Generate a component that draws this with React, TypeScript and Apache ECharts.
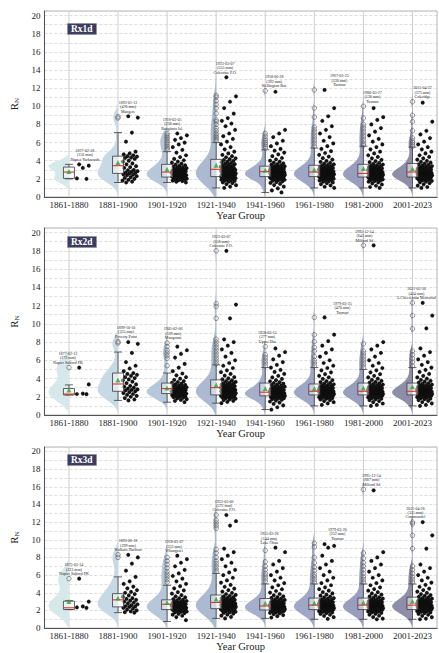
import React, { useEffect, useRef } from "react";
import * as echarts from "echarts";

const YEAR_GROUPS = ["1861-1880", "1881-1900", "1901-1920", "1921-1940", "1941-1960", "1961-1980", "1981-2000", "2001-2023"];
const PANEL_NAMES = ["Rx1d", "Rx2d", "Rx3d"];

// box stats: [lower whisker, Q1, median, Q3, upper whisker]
const RX1D_BOX = [
  [2.0, 2.05, 2.75, 3.3, 3.6], [1.6, 2.6, 3.45, 4.5, 7.1], [1.6, 2.2, 2.75, 3.6, 5.0], [1.0, 2.25, 3.05, 4.15, 6.0],
  [0.5, 2.25, 2.8, 3.4, 5.2], [1.0, 2.25, 2.75, 3.5, 5.4], [1.0, 2.2, 2.6, 3.6, 5.6], [1.0, 2.2, 2.75, 3.7, 5.5],
];
const RX1D_MEAN = [2.8, 3.8, 3.05, 3.5, 2.95, 3.0, 3.15, 3.1];
const RX1D_OUTLIERS = [
  [], [8.7, 8.85], [5.2, 5.4, 5.6, 5.8, 6.0, 6.2, 6.4, 6.6, 6.8, 7.0],
  [6.2, 6.4, 6.6, 6.8, 7.0, 7.3, 7.6, 8.0, 8.3, 8.5, 9.2, 9.8, 10.2, 10.6, 11.0, 11.2],
  [5.4, 5.6, 5.8, 6.0, 6.2, 6.4, 6.7, 7.0, 11.7],
  [5.6, 5.9, 6.2, 6.5, 6.8, 7.1, 7.4, 7.7, 8.8, 9.8, 11.8],
  [5.7, 5.9, 6.2, 6.5, 6.8, 7.1, 7.4, 7.7, 8.0, 8.7, 10.0],
  [5.6, 5.8, 6.0, 6.2, 6.5, 7.3, 8.3, 9.0, 10.5],
];
const RX1D_POINTS = [
  [3.6, 3.45, 3.2, 2.05, 2.0],
  [8.9, 8.75, 7.1, 6.1, 5.0, 4.8, 4.7, 4.6, 4.5, 4.45, 4.35, 4.3, 4.2, 4.0, 3.9, 3.7, 3.6, 3.4, 3.3, 3.2, 3.0, 2.95, 2.85, 2.8, 2.7, 2.65, 2.6, 2.5, 2.45, 2.4, 2.3, 2.2, 2.1, 2.0, 1.9, 1.8, 1.7, 1.6],
  [7.0, 6.8, 6.5, 6.3, 6.0, 5.8, 5.5, 5.2, 4.9, 4.6, 4.4, 4.2, 4.05, 3.9, 3.78, 3.67, 3.58, 3.5, 3.43, 3.36, 3.3, 3.24, 3.18, 3.13, 3.08, 3.03, 2.99, 2.95, 2.91, 2.87, 2.83, 2.79, 2.75, 2.72, 2.68, 2.65, 2.62, 2.59, 2.56, 2.53, 2.5, 2.47, 2.44, 2.41, 2.38, 2.35, 2.32, 2.29, 2.26, 2.23, 2.2, 2.17, 2.14, 2.11, 2.08, 2.05, 2.02, 1.98, 1.94, 1.9, 1.86, 1.81, 1.75, 1.68, 1.6],
  [13.2, 11.1, 10.5, 9.8, 9.2, 8.7, 8.4, 8.1, 7.8, 7.4, 7.0, 6.7, 6.4, 6.1, 5.8, 5.5, 5.25, 5.0, 4.8, 4.65, 4.5, 4.38, 4.27, 4.17, 4.08, 3.99, 3.91, 3.83, 3.76, 3.69, 3.62, 3.56, 3.5, 3.44, 3.39, 3.34, 3.29, 3.24, 3.2, 3.16, 3.12, 3.08, 3.04, 3.0, 2.97, 2.94, 2.91, 2.88, 2.85, 2.82, 2.79, 2.76, 2.73, 2.7, 2.67, 2.64, 2.61, 2.58, 2.55, 2.52, 2.5, 2.47, 2.45, 2.42, 2.4, 2.37, 2.35, 2.33, 2.3, 2.28, 2.26, 2.24, 2.22, 2.2, 2.17, 2.14, 2.11, 2.08, 2.05, 2.02, 1.99, 1.95, 1.91, 1.87, 1.83, 1.77, 1.7, 1.62, 1.53, 1.42, 1.3, 1.15, 1.0],
  [11.6, 7.4, 7.0, 6.6, 6.2, 5.9, 5.6, 5.3, 5.1, 4.9, 4.7, 4.5, 4.3, 4.15, 4.0, 3.9, 3.8, 3.71, 3.63, 3.56, 3.5, 3.44, 3.39, 3.34, 3.3, 3.26, 3.22, 3.18, 3.14, 3.11, 3.08, 3.05, 3.02, 2.99, 2.96, 2.93, 2.9, 2.88, 2.85, 2.83, 2.8, 2.78, 2.76, 2.73, 2.71, 2.69, 2.67, 2.64, 2.62, 2.6, 2.58, 2.56, 2.54, 2.52, 2.5, 2.48, 2.46, 2.44, 2.42, 2.4, 2.38, 2.36, 2.34, 2.32, 2.3, 2.28, 2.26, 2.23, 2.2, 2.17, 2.14, 2.11, 2.08, 2.05, 2.02, 1.98, 1.94, 1.9, 1.85, 1.79, 1.72, 1.64, 1.55, 1.44, 1.31, 1.15, 0.95, 0.72, 0.5],
  [11.8, 9.8, 8.9, 8.4, 7.8, 7.4, 7.0, 6.6, 6.2, 5.9, 5.6, 5.3, 5.05, 4.85, 4.65, 4.45, 4.28, 4.12, 3.98, 3.87, 3.77, 3.68, 3.6, 3.53, 3.47, 3.41, 3.36, 3.31, 3.27, 3.23, 3.19, 3.15, 3.11, 3.08, 3.05, 3.02, 2.99, 2.96, 2.93, 2.9, 2.87, 2.85, 2.82, 2.8, 2.77, 2.75, 2.72, 2.7, 2.68, 2.66, 2.63, 2.61, 2.59, 2.57, 2.55, 2.53, 2.51, 2.49, 2.47, 2.45, 2.43, 2.41, 2.39, 2.37, 2.35, 2.33, 2.31, 2.29, 2.27, 2.25, 2.23, 2.2, 2.17, 2.14, 2.11, 2.08, 2.05, 2.02, 1.99, 1.95, 1.91, 1.87, 1.82, 1.76, 1.69, 1.61, 1.52, 1.41, 1.28, 1.13, 1.0],
  [9.8, 8.8, 8.5, 8.0, 7.6, 7.2, 6.8, 6.4, 6.1, 5.8, 5.5, 5.25, 5.0, 4.8, 4.6, 4.42, 4.26, 4.1, 3.96, 3.85, 3.75, 3.66, 3.58, 3.51, 3.45, 3.39, 3.34, 3.29, 3.24, 3.2, 3.16, 3.12, 3.08, 3.04, 3.01, 2.98, 2.95, 2.92, 2.89, 2.86, 2.83, 2.8, 2.77, 2.75, 2.72, 2.7, 2.67, 2.65, 2.63, 2.6, 2.58, 2.56, 2.54, 2.52, 2.5, 2.48, 2.46, 2.44, 2.42, 2.4, 2.38, 2.36, 2.34, 2.32, 2.3, 2.28, 2.26, 2.24, 2.22, 2.2, 2.17, 2.14, 2.11, 2.08, 2.05, 2.02, 1.99, 1.95, 1.91, 1.87, 1.82, 1.76, 1.69, 1.6, 1.5, 1.38, 1.24, 1.1, 1.0],
  [10.4, 8.3, 7.3, 6.9, 6.5, 6.1, 5.8, 5.5, 5.25, 5.0, 4.8, 4.6, 4.42, 4.26, 4.12, 3.99, 3.88, 3.78, 3.69, 3.61, 3.54, 3.47, 3.41, 3.35, 3.3, 3.25, 3.2, 3.16, 3.12, 3.08, 3.04, 3.0, 2.97, 2.94, 2.91, 2.88, 2.85, 2.82, 2.79, 2.76, 2.74, 2.71, 2.69, 2.66, 2.64, 2.62, 2.59, 2.57, 2.55, 2.53, 2.51, 2.49, 2.47, 2.45, 2.43, 2.41, 2.39, 2.37, 2.35, 2.33, 2.31, 2.29, 2.27, 2.25, 2.23, 2.21, 2.18, 2.15, 2.12, 2.09, 2.06, 2.03, 2.0, 1.96, 1.92, 1.88, 1.83, 1.77, 1.7, 1.62, 1.52, 1.4, 1.26, 1.1, 1.0],
];
const RX1D_NOTES = [
  "1877-02-18\n(156 mm)\nNapier Yorkwards", "1893-01-12\n(470 mm)\nMangere", "1918-03-05\n(238 mm)\nRangitoto Isl.", "1923-03-07\n(555 mm)\nColeraine P.O.",
  "1958-06-28\n(392 mm)\nWellington Bot.", "1967-03-25\n(530 mm)\nTasman", "1980-03-27\n(128 mm)\nTasman", "2011-04-27\n(373 mm)\nColeridge",
];

const RX2D_BOX = [
  [2.2, 2.2, 2.3, 2.9, 3.3], [1.6, 2.6, 3.4, 4.6, 6.9], [1.4, 2.35, 2.9, 3.5, 4.6], [1.3, 2.2, 3.0, 3.85, 5.5],
  [0.6, 2.1, 2.5, 3.5, 5.2], [1.0, 2.2, 2.6, 3.4, 5.2], [1.0, 2.2, 2.6, 3.5, 5.0], [1.0, 2.2, 2.6, 3.5, 5.2],
];
const RX2D_MEAN = [2.75, 3.85, 2.95, 3.3, 2.9, 2.9, 2.95, 3.1];
const RX2D_OUTLIERS = [
  [5.2], [7.9, 8.05], [5.4, 6.2, 6.5, 6.8, 7.1, 7.5, 7.9],
  [5.6, 5.9, 6.2, 6.5, 6.8, 7.1, 7.4, 7.7, 8.0, 8.3, 10.6, 11.9, 12.2, 18.0],
  [5.4, 5.7, 6.0, 6.3, 6.6, 7.5],
  [5.4, 5.7, 6.0, 6.4, 7.0, 7.4, 8.05, 8.8, 10.7],
  [5.2, 5.5, 5.8, 6.1, 6.4, 6.7, 7.0, 7.8, 18.6],
  [5.4, 5.8, 6.2, 6.6, 7.0, 9.45, 10.9, 12.3],
];
const RX2D_POINTS = [
  [5.2, 3.35, 2.35, 2.3, 2.28],
  [8.0, 7.8, 6.8, 5.8, 5.4, 5.1, 4.8, 4.6, 4.5, 4.4, 4.3, 4.15, 4.05, 3.9, 3.8, 3.65, 3.5, 3.35, 3.2, 3.1, 3.0, 2.9, 2.8, 2.75, 2.7, 2.6, 2.5, 2.4, 2.3, 2.2, 2.1, 2.0, 1.85, 1.7, 1.6],
  [7.5, 7.1, 6.7, 6.3, 5.6, 5.2, 4.8, 4.55, 4.35, 4.15, 3.98, 3.84, 3.72, 3.62, 3.53, 3.45, 3.38, 3.31, 3.25, 3.19, 3.14, 3.09, 3.04, 3.0, 2.96, 2.92, 2.88, 2.84, 2.8, 2.77, 2.74, 2.71, 2.68, 2.65, 2.62, 2.59, 2.56, 2.53, 2.5, 2.47, 2.44, 2.41, 2.38, 2.35, 2.32, 2.29, 2.26, 2.22, 2.18, 2.14, 2.1, 2.05, 2.0, 1.95, 1.89, 1.82, 1.74, 1.65, 1.54, 1.42],
  [18.0, 12.1, 10.6, 8.3, 8.0, 7.6, 7.2, 6.8, 6.4, 6.0, 5.7, 5.4, 5.15, 4.9, 4.7, 4.5, 4.32, 4.16, 4.02, 3.9, 3.8, 3.71, 3.63, 3.56, 3.49, 3.43, 3.37, 3.32, 3.27, 3.22, 3.18, 3.14, 3.1, 3.06, 3.02, 2.99, 2.96, 2.93, 2.9, 2.87, 2.84, 2.81, 2.78, 2.75, 2.72, 2.69, 2.66, 2.63, 2.6, 2.57, 2.55, 2.52, 2.5, 2.47, 2.45, 2.43, 2.41, 2.38, 2.36, 2.34, 2.32, 2.3, 2.28, 2.26, 2.24, 2.22, 2.2, 2.17, 2.14, 2.11, 2.08, 2.05, 2.02, 1.98, 1.94, 1.9, 1.85, 1.79, 1.72, 1.64, 1.55, 1.44, 1.3],
  [7.3, 6.9, 6.5, 6.1, 5.8, 5.5, 5.2, 4.95, 4.72, 4.5, 4.3, 4.12, 3.96, 3.82, 3.7, 3.6, 3.51, 3.43, 3.36, 3.29, 3.22, 3.16, 3.1, 3.05, 3.0, 2.95, 2.9, 2.86, 2.82, 2.78, 2.74, 2.7, 2.67, 2.64, 2.61, 2.58, 2.55, 2.52, 2.49, 2.47, 2.44, 2.42, 2.4, 2.37, 2.35, 2.33, 2.31, 2.29, 2.27, 2.25, 2.23, 2.21, 2.19, 2.17, 2.15, 2.13, 2.11, 2.09, 2.06, 2.03, 2.0, 1.97, 1.93, 1.89, 1.85, 1.8, 1.74, 1.67, 1.58, 1.48, 1.36, 1.22, 1.05, 0.85, 0.6],
  [10.7, 8.8, 8.1, 7.6, 7.2, 6.8, 6.4, 6.0, 5.7, 5.4, 5.15, 4.9, 4.68, 4.48, 4.3, 4.13, 3.97, 3.83, 3.71, 3.61, 3.52, 3.44, 3.37, 3.31, 3.25, 3.19, 3.14, 3.09, 3.05, 3.01, 2.97, 2.93, 2.89, 2.86, 2.83, 2.8, 2.77, 2.74, 2.71, 2.68, 2.65, 2.63, 2.6, 2.58, 2.55, 2.53, 2.51, 2.49, 2.47, 2.45, 2.43, 2.41, 2.39, 2.37, 2.35, 2.33, 2.31, 2.29, 2.27, 2.25, 2.23, 2.21, 2.19, 2.16, 2.13, 2.1, 2.07, 2.04, 2.01, 1.97, 1.93, 1.89, 1.84, 1.78, 1.71, 1.63, 1.53, 1.41, 1.27, 1.1],
  [18.6, 8.0, 7.6, 7.2, 6.8, 6.4, 6.0, 5.7, 5.4, 5.15, 4.9, 4.68, 4.48, 4.3, 4.13, 3.98, 3.85, 3.74, 3.64, 3.55, 3.47, 3.4, 3.33, 3.27, 3.21, 3.16, 3.11, 3.06, 3.02, 2.98, 2.94, 2.9, 2.87, 2.84, 2.81, 2.78, 2.75, 2.72, 2.69, 2.66, 2.63, 2.61, 2.58, 2.56, 2.54, 2.52, 2.5, 2.48, 2.46, 2.44, 2.42, 2.4, 2.38, 2.36, 2.34, 2.32, 2.3, 2.28, 2.26, 2.24, 2.22, 2.2, 2.17, 2.14, 2.11, 2.08, 2.05, 2.02, 1.98, 1.94, 1.9, 1.85, 1.79, 1.72, 1.63, 1.53, 1.41, 1.26, 1.1, 1.0],
  [12.3, 10.9, 9.5, 7.3, 6.9, 6.5, 6.1, 5.8, 5.5, 5.2, 4.95, 4.72, 4.5, 4.3, 4.13, 3.98, 3.86, 3.75, 3.65, 3.56, 3.48, 3.41, 3.34, 3.28, 3.22, 3.17, 3.12, 3.07, 3.03, 2.99, 2.95, 2.91, 2.88, 2.85, 2.82, 2.79, 2.76, 2.73, 2.7, 2.67, 2.64, 2.62, 2.59, 2.57, 2.55, 2.53, 2.51, 2.49, 2.47, 2.45, 2.43, 2.41, 2.39, 2.37, 2.35, 2.33, 2.31, 2.29, 2.27, 2.25, 2.23, 2.21, 2.18, 2.15, 2.12, 2.09, 2.06, 2.03, 1.99, 1.95, 1.91, 1.86, 1.8, 1.73, 1.64, 1.54, 1.42, 1.27, 1.1, 1.0],
];
const RX2D_NOTES = [
  "1877-02-13\n(272 mm)\nNapier Salford PK", "1899-10-10\n(355 mm)\nPoverty Point", "1905-02-06\n(339 mm)\nMangonui", "1923-03-07\n(558 mm)\nColeraine P.O.",
  "1958-02-15\n(277 mm)\nUpper Hut", "1979-03-25\n(470 mm)\nTasman", "1995-12-14\n(642 mm)\nMilford Sd", "2021-05-30\n(434 mm)\nL.Cheeseman Memorial",
];

const RX3D_BOX = [
  [2.1, 2.1, 2.3, 3.05, 3.1], [1.75, 2.4, 3.2, 3.9, 5.8], [0.75, 2.1, 2.7, 3.2, 4.85], [1.1, 2.2, 2.9, 3.75, 6.2],
  [1.1, 2.05, 2.5, 3.35, 5.0], [1.0, 2.1, 2.6, 3.4, 5.0], [1.0, 2.1, 2.6, 3.4, 5.0], [1.0, 2.1, 2.6, 3.5, 5.0],
];
const RX3D_MEAN = [3.0, 3.4, 2.9, 3.3, 2.8, 2.85, 2.9, 3.05];
const RX3D_OUTLIERS = [
  [5.6], [8.0, 8.3], [5.2, 5.5, 5.8, 6.1, 6.4, 6.8, 7.2, 7.6, 8.0],
  [6.4, 6.7, 7.0, 7.3, 7.6, 8.0, 8.5, 8.9, 11.3, 11.6, 11.9, 12.2, 12.8],
  [5.3, 5.6, 5.9, 6.2, 6.6, 7.0, 7.5, 8.8],
  [5.2, 5.5, 5.8, 6.1, 6.5, 6.9, 7.4, 8.0, 9.2, 9.6],
  [5.2, 5.5, 5.8, 6.2, 6.6, 7.0, 7.4, 7.9, 8.5, 15.7],
  [5.2, 5.5, 5.8, 6.2, 6.6, 7.0, 9.0, 10.5, 11.8, 12.0],
];
const RX3D_POINTS = [
  [5.6, 3.0, 2.45, 2.35, 2.3],
  [8.3, 8.0, 7.3, 6.5, 5.8, 5.3, 5.0, 4.7, 4.5, 4.3, 4.1, 4.0, 3.85, 3.7, 3.55, 3.4, 3.3, 3.2, 3.1, 3.0, 2.9, 2.8, 2.7, 2.6, 2.5, 2.45, 2.4, 2.3, 2.2, 2.1, 2.0, 1.9, 1.8, 1.75],
  [8.2, 7.8, 7.4, 7.0, 6.6, 6.2, 5.9, 5.6, 5.3, 5.0, 4.75, 4.5, 4.28, 4.08, 3.9, 3.74, 3.6, 3.48, 3.38, 3.29, 3.21, 3.14, 3.07, 3.01, 2.96, 2.91, 2.86, 2.82, 2.78, 2.74, 2.7, 2.66, 2.63, 2.6, 2.57, 2.54, 2.51, 2.48, 2.45, 2.42, 2.39, 2.36, 2.33, 2.3, 2.27, 2.24, 2.21, 2.18, 2.15, 2.12, 2.09, 2.06, 2.03, 2.0, 1.96, 1.92, 1.88, 1.83, 1.77, 1.7, 1.62, 1.52, 1.4, 1.25, 0.9],
  [12.8, 12.1, 11.6, 9.0, 8.6, 8.2, 7.8, 7.4, 7.0, 6.6, 6.3, 6.0, 5.7, 5.4, 5.15, 4.9, 4.68, 4.48, 4.3, 4.14, 3.99, 3.86, 3.75, 3.66, 3.58, 3.5, 3.43, 3.37, 3.31, 3.26, 3.21, 3.16, 3.12, 3.08, 3.04, 3.0, 2.97, 2.94, 2.91, 2.88, 2.85, 2.82, 2.79, 2.76, 2.73, 2.7, 2.67, 2.64, 2.61, 2.59, 2.56, 2.54, 2.51, 2.49, 2.47, 2.44, 2.42, 2.4, 2.38, 2.36, 2.34, 2.32, 2.3, 2.28, 2.26, 2.24, 2.22, 2.2, 2.17, 2.14, 2.11, 2.08, 2.05, 2.02, 1.98, 1.94, 1.9, 1.85, 1.79, 1.72, 1.63, 1.53, 1.41, 1.26, 1.1],
  [9.1, 8.6, 7.6, 7.2, 6.8, 6.4, 6.0, 5.7, 5.4, 5.1, 4.85, 4.62, 4.4, 4.2, 4.02, 3.86, 3.72, 3.6, 3.5, 3.41, 3.33, 3.26, 3.19, 3.13, 3.07, 3.02, 2.97, 2.92, 2.88, 2.84, 2.8, 2.76, 2.72, 2.69, 2.66, 2.63, 2.6, 2.57, 2.54, 2.51, 2.48, 2.46, 2.43, 2.41, 2.39, 2.37, 2.35, 2.33, 2.31, 2.29, 2.27, 2.25, 2.23, 2.21, 2.19, 2.17, 2.15, 2.13, 2.11, 2.09, 2.07, 2.05, 2.02, 1.99, 1.96, 1.92, 1.88, 1.84, 1.79, 1.73, 1.66, 1.57, 1.47, 1.35, 1.2],
  [9.5, 9.3, 9.1, 8.2, 7.6, 7.2, 6.8, 6.4, 6.0, 5.7, 5.4, 5.1, 4.85, 4.62, 4.42, 4.24, 4.07, 3.92, 3.79, 3.67, 3.57, 3.48, 3.4, 3.33, 3.26, 3.2, 3.14, 3.09, 3.04, 2.99, 2.95, 2.91, 2.87, 2.83, 2.8, 2.77, 2.74, 2.71, 2.68, 2.65, 2.62, 2.59, 2.56, 2.54, 2.51, 2.49, 2.46, 2.44, 2.42, 2.4, 2.38, 2.36, 2.34, 2.32, 2.3, 2.28, 2.26, 2.24, 2.22, 2.2, 2.18, 2.16, 2.14, 2.12, 2.09, 2.06, 2.03, 2.0, 1.96, 1.92, 1.88, 1.83, 1.77, 1.7, 1.61, 1.51, 1.39, 1.24, 1.05],
  [15.6, 8.6, 8.0, 7.6, 7.2, 6.8, 6.4, 6.0, 5.7, 5.4, 5.1, 4.85, 4.62, 4.42, 4.24, 4.07, 3.92, 3.8, 3.68, 3.58, 3.49, 3.41, 3.34, 3.27, 3.21, 3.15, 3.1, 3.05, 3.0, 2.96, 2.92, 2.88, 2.84, 2.81, 2.78, 2.75, 2.72, 2.69, 2.66, 2.63, 2.6, 2.57, 2.55, 2.52, 2.5, 2.47, 2.45, 2.43, 2.41, 2.39, 2.37, 2.35, 2.33, 2.31, 2.29, 2.27, 2.25, 2.23, 2.21, 2.19, 2.17, 2.15, 2.13, 2.1, 2.07, 2.04, 2.01, 1.97, 1.93, 1.89, 1.84, 1.78, 1.71, 1.62, 1.52, 1.4, 1.25, 1.08, 1.0],
  [12.0, 10.5, 9.0, 7.2, 6.8, 6.4, 6.0, 5.7, 5.4, 5.15, 4.9, 4.68, 4.48, 4.3, 4.13, 3.98, 3.85, 3.74, 3.64, 3.55, 3.47, 3.4, 3.33, 3.27, 3.21, 3.16, 3.11, 3.06, 3.02, 2.98, 2.94, 2.9, 2.87, 2.84, 2.81, 2.78, 2.75, 2.72, 2.69, 2.66, 2.63, 2.6, 2.58, 2.55, 2.53, 2.5, 2.48, 2.46, 2.44, 2.42, 2.4, 2.38, 2.36, 2.34, 2.32, 2.3, 2.28, 2.26, 2.24, 2.22, 2.2, 2.18, 2.15, 2.12, 2.09, 2.06, 2.03, 2.0, 1.96, 1.92, 1.88, 1.83, 1.77, 1.7, 1.61, 1.51, 1.39, 1.24, 1.08, 1.0],
];
const RX3D_NOTES = [
  "1875-05-14\n(223 mm)\nNapier Salford PK", "1893-06-18\n(299 mm)\nWaikato Harbour", "1918-03-07\n(353 mm)\nWhangarei", "1923-03-06\n(572 mm)\nColeraine P.O.",
  "1955-03-28\n(144 mm)\nLake Ohau", "1979-03-26\n(252 mm)\nTasman", "1995-12-14\n(687 mm)\nMilford Sd", "2011-04-26\n(311 mm)\nCoromandel",
];

// ---- styling / layout (not data) ----
const FONT = "'Liberation Serif', 'Times New Roman', serif";
const VIOLIN_COLORS = ["#d5e9eb", "#c6d9e4", "#b7c7da", "#abb9d1", "#a5afcb", "#a0a7c6", "#999dbe", "#8e8ea9"];
const GRID_LAYOUT = [
  { top: 11, height: 186 },
  { top: 228, height: 187 },
  { top: 447, height: 185 },
];
const TITLE_TOP = [23, 236, 454];
const NOTE_DX = [
  [16, 10, 5, 9, 9, 25, 9, 10],
  [-1, 8, 6, 5, 2, 28, 1, 4],
  [5, 10, 7, 8, 4, 23, 8, 3],
];
const VIOLIN_RATIO = 0.415;
const JITTER_MIN = 4.5;
const JITTER_SPAN = 15.5;
const POINT_R = 1.85;
const BOX_HALF = 5.5;
const CAP_HALF = 4;

const PANELS = [
  { box: RX1D_BOX, mean: RX1D_MEAN, outliers: RX1D_OUTLIERS, points: RX1D_POINTS, notes: RX1D_NOTES },
  { box: RX2D_BOX, mean: RX2D_MEAN, outliers: RX2D_OUTLIERS, points: RX2D_POINTS, notes: RX2D_NOTES },
  { box: RX3D_BOX, mean: RX3D_MEAN, outliers: RX3D_OUTLIERS, points: RX3D_POINTS, notes: RX3D_NOTES },
];

function kdeProfile(vals: number[]): [number, number][] {
  const n = vals.length;
  const sorted = [...vals].sort((a, b) => a - b);
  const mean = vals.reduce((a, b) => a + b, 0) / n;
  const sd = Math.sqrt(vals.reduce((a, b) => a + (b - mean) * (b - mean), 0) / Math.max(1, n - 1));
  const q = (p: number) => {
    const idx = (n - 1) * p;
    const lo = Math.floor(idx), hi = Math.ceil(idx);
    return sorted[lo] + (sorted[hi] - sorted[lo]) * (idx - lo);
  };
  const iqr = q(0.75) - q(0.25);
  const spread = iqr > 0 ? Math.min(sd, iqr / 1.34) : sd;
  const h = Math.max(0.35, 0.9 * spread * Math.pow(n, -0.2));
  const lo = sorted[0] - 2 * h;
  const hi = sorted[n - 1] + 2 * h;
  const steps = 160;
  const out: [number, number][] = [];
  for (let k = 0; k <= steps; k++) {
    const y = lo + ((hi - lo) * k) / steps;
    let d = 0;
    for (const v of vals) {
      const z = (y - v) / h;
      d += Math.exp(-0.5 * z * z);
    }
    out.push([y, d]);
  }
  const m = Math.max(...out.map((o) => o[1]));
  return out.map(([y, d]) => [y, d / m] as [number, number]);
}

function buildOption() {
  const grids: any[] = [];
  const xAxes: any[] = [];
  const yAxes: any[] = [];
  const titles: any[] = [];
  const series: any[] = [];

  PANELS.forEach((p, pi) => {
    const L = GRID_LAYOUT[pi];
    grids.push({ left: 32, right: 2, top: L.top, height: L.height, show: true, borderColor: "#b5b5b5", borderWidth: 1, backgroundColor: "#fff" });
    xAxes.push({
      type: "category", gridIndex: pi, data: YEAR_GROUPS,
      name: "Year Group", nameLocation: "middle", nameGap: 12,
      nameTextStyle: { fontSize: 10.5, color: "#222", fontFamily: FONT },
      axisLine: { lineStyle: { color: "#555", width: 1 } },
      axisTick: { show: false },
      axisLabel: { fontSize: 9, color: "#222", margin: 3, interval: 0, fontFamily: FONT },
      splitLine: { show: false },
    });
    yAxes.push({
      type: "value", gridIndex: pi, min: 0, max: 20.5, interval: 1,
      name: "{r|R}{s|N}", nameLocation: "middle", nameRotate: 90, nameGap: 14,
      nameTextStyle: {
        color: "#222",
        rich: {
          r: { fontSize: 11, fontFamily: FONT, color: "#222", lineHeight: 14 },
          s: { fontSize: 7, fontFamily: FONT, color: "#222", lineHeight: 14, verticalAlign: "bottom", padding: [4, 0, 0, 0] },
        },
      },
      axisLine: { show: true, lineStyle: { color: "#555", width: 1 } },
      axisTick: { show: false },
      axisLabel: {
        fontSize: 9, color: "#222", margin: 4, fontFamily: FONT, showMaxLabel: false,
        formatter: (v: number) => (Math.abs(v % 2) < 1e-9 ? String(v) : ""),
      },
      splitLine: { show: true, lineStyle: { color: "#cfcfcf", width: 0.7, type: [3, 2] } },
    });
    titles.push({
      text: PANEL_NAMES[pi], left: 67, top: TITLE_TOP[pi],
      backgroundColor: "#3d3c5e", borderColor: "#8a8a9a", borderWidth: 0.5,
      padding: [1, 4, 1, 4],
      textStyle: { color: "#fff", fontSize: 9.5, fontWeight: "bold", fontFamily: FONT },
    });

    const profiles = p.points.map((arr, gi) => kdeProfile([...arr, ...p.outliers[gi]]));

    series.push({
      type: "custom", xAxisIndex: pi, yAxisIndex: pi, silent: true, z: 1,
      data: YEAR_GROUPS.map((_, gi) => [gi, 0]),
      renderItem: (params: any, api: any) => {
        const c = api.coord([api.value(0), 0]);
        const cs = params.coordSys;
        return { type: "line", shape: { x1: c[0], y1: cs.y, x2: c[0], y2: cs.y + cs.height }, style: { stroke: "#cdcdcd", lineWidth: 1 } };
      },
    });

    series.push({
      type: "custom", xAxisIndex: pi, yAxisIndex: pi, silent: true, z: 2, clip: true,
      data: p.box.map((b, gi) => [gi, b[2]]),
      renderItem: (params: any, api: any) => {
        const gi = api.value(0);
        const prof = profiles[gi];
        const cx = api.coord([gi, 0])[0];
        const w = api.size([1, 0])[0] * VIOLIN_RATIO;
        const pts: number[][] = [];
        pts.push([cx, api.coord([gi, prof[0][0]])[1]]);
        prof.forEach(([v, d]) => pts.push([cx - d * w, api.coord([gi, v])[1]]));
        pts.push([cx, api.coord([gi, prof[prof.length - 1][0]])[1]]);
        return { type: "polygon", shape: { points: pts }, style: { fill: VIOLIN_COLORS[gi], stroke: "none" } };
      },
    });

    const pointData: number[][] = [];
    p.points.forEach((arr, gi) => arr.forEach((v, j) => pointData.push([gi, v, j])));
    series.push({
      type: "custom", xAxisIndex: pi, yAxisIndex: pi, silent: true, z: 3,
      data: pointData,
      renderItem: (params: any, api: any) => {
        const gi = api.value(0), v = api.value(1), j = api.value(2);
        const c = api.coord([gi, v]);
        const f = (j * 0.6180339887 + 0.37) % 1;
        return { type: "circle", shape: { cx: c[0] + JITTER_MIN + f * JITTER_SPAN, cy: c[1], r: POINT_R }, style: { fill: "#141414", stroke: "#000", lineWidth: 0.2 } };
      },
    });

    series.push({
      type: "custom", xAxisIndex: pi, yAxisIndex: pi, silent: true, z: 4,
      data: p.box.map((b, gi) => [gi, ...b]),
      renderItem: (params: any, api: any) => {
        const gi = api.value(0);
        const x = api.coord([gi, 0])[0];
        const y = (k: number) => api.coord([gi, api.value(k)])[1];
        const lo = y(1), q1 = y(2), med = y(3), q3 = y(4), hi = y(5);
        const ws = { stroke: "#3a3a3a", lineWidth: 0.8 };
        return {
          type: "group",
          children: [
            { type: "line", shape: { x1: x, y1: lo, x2: x, y2: q1 }, style: ws },
            { type: "line", shape: { x1: x, y1: q3, x2: x, y2: hi }, style: ws },
            { type: "line", shape: { x1: x - CAP_HALF, y1: lo, x2: x + CAP_HALF, y2: lo }, style: ws },
            { type: "line", shape: { x1: x - CAP_HALF, y1: hi, x2: x + CAP_HALF, y2: hi }, style: ws },
            { type: "rect", shape: { x: x - BOX_HALF, y: q3, width: 2 * BOX_HALF, height: Math.max(0.5, q1 - q3) }, style: { fill: "rgba(255,255,255,0.45)", stroke: "#3a3a3a", lineWidth: 0.8 } },
            { type: "line", shape: { x1: x - BOX_HALF, y1: med, x2: x + BOX_HALF, y2: med }, style: { stroke: "#e0302c", lineWidth: 1.1 } },
          ],
        };
      },
    });

    const outData: number[][] = [];
    p.outliers.forEach((arr, gi) => arr.forEach((v) => outData.push([gi, v])));
    series.push({
      type: "scatter", xAxisIndex: pi, yAxisIndex: pi, silent: true, z: 5,
      symbol: "circle", symbolSize: 4.5,
      itemStyle: { color: "rgba(0,0,0,0)", borderColor: "#555", borderWidth: 0.8 },
      data: outData,
    });

    series.push({
      type: "scatter", xAxisIndex: pi, yAxisIndex: pi, silent: true, z: 6,
      symbol: "triangle", symbolSize: 5,
      itemStyle: { color: "#2ca02c" },
      data: p.mean.map((m, gi) => [gi, m]),
    });

    series.push({
      type: "custom", xAxisIndex: pi, yAxisIndex: pi, silent: true, z: 7,
      data: p.notes.map((_, gi) => [gi, Math.max(...p.points[gi], ...p.outliers[gi])]),
      renderItem: (params: any, api: any) => {
        const gi = api.value(0);
        const c = api.coord([gi, api.value(1)]);
        return {
          type: "text", x: c[0] + NOTE_DX[pi][gi], y: c[1] - 3,
          style: { text: p.notes[params.dataIndex], fontSize: 4, fontFamily: FONT, fill: "#222", align: "center", verticalAlign: "bottom", lineHeight: 4.4 },
        };
      },
    });
  });

  return {
    animation: false,
    backgroundColor: "#fff",
    textStyle: { fontFamily: FONT },
    title: titles,
    grid: grids,
    xAxis: xAxes,
    yAxis: yAxes,
    series,
  };
}

export default function App() {
  const ref = useRef<HTMLDivElement>(null);
  useEffect(() => {
    if (!ref.current) return;
    const chart = echarts.init(ref.current, null, { renderer: "svg" });
    chart.setOption(buildOption() as any);
    return () => chart.dispose();
  }, []);
  return <div ref={ref} style={{ position: "fixed", left: 0, top: 0, width: 439, height: 653, background: "#fff" }} />;
}
